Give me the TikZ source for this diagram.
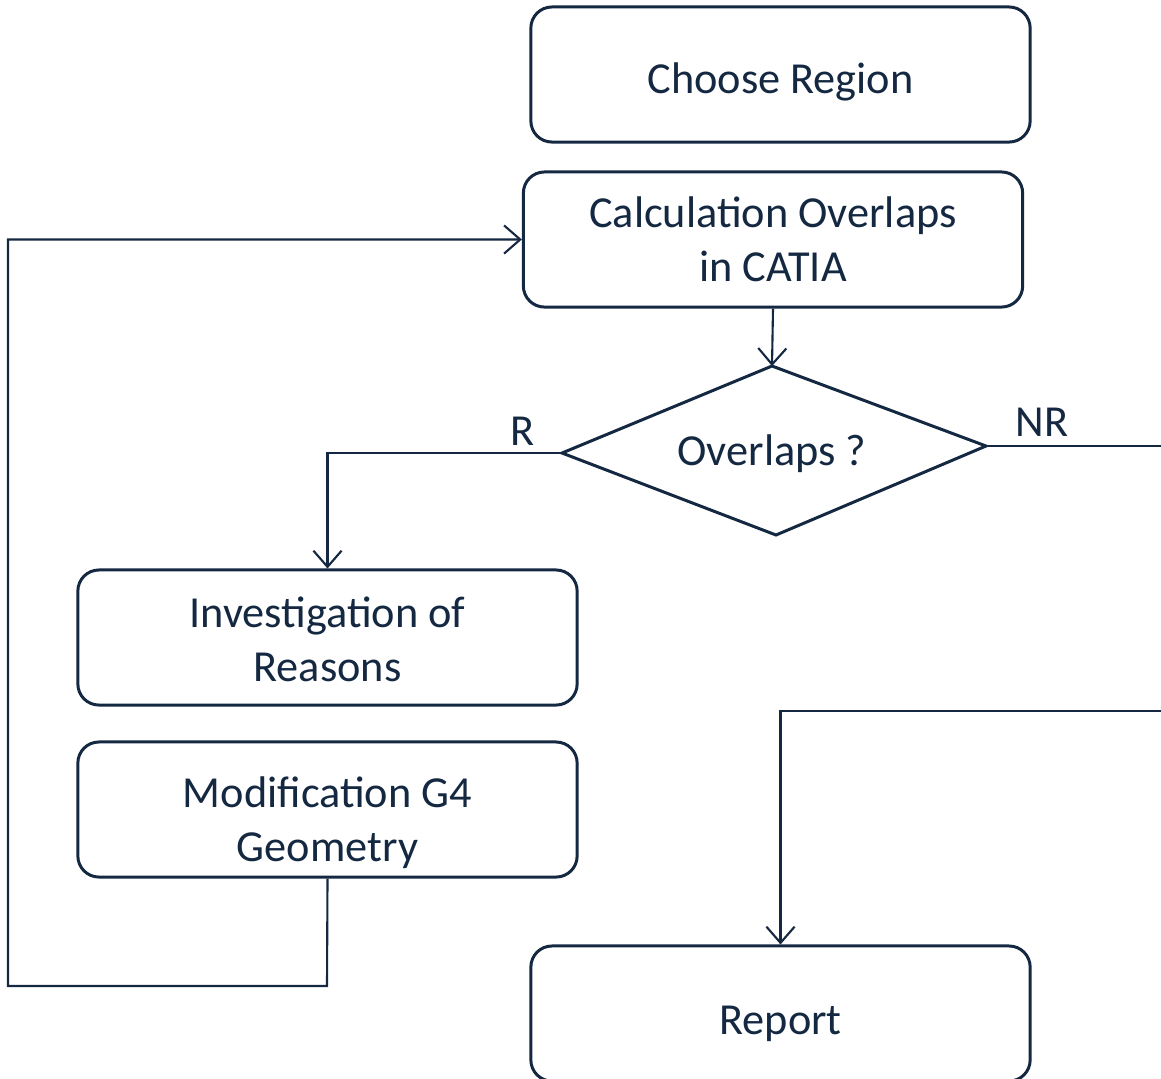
\documentclass[tikz,border=0pt]{standalone}
\usepackage{fontspec}
\setmainfont{Carlito}
\usetikzlibrary{arrows.meta,calc}
\definecolor{ink}{RGB}{20,40,65}
\begin{document}
\begin{tikzpicture}[x=0.01cm,y=-0.01cm,
  every node/.style={text=ink, font=\fontsize{12.6}{15.4}\selectfont},
  procbox/.style={draw=ink, line width=0.85pt, rounded corners=6pt,
    minimum width=4.99cm, minimum height=1.35cm, inner sep=0pt},
  boxtext/.style={align=center, inner sep=0pt},
  link/.style={draw=ink, line width=0.6pt},
  flow/.style={link, -{Straight Barb[length=4.6pt,width=8pt,line width=0.6pt]}}]
  \useasboundingbox (0,0) rectangle (1161,1078);

  % process boxes
  \node[procbox] (choose) at (780.5,74.5) {};
  \node[procbox] (calc) at (773,239.5) {};
  \node[procbox] (invest) at (327.5,637.5) {};
  \node[procbox] (modif) at (327.5,809.5) {};
  \node[procbox] (report) at (780.5,1013.5) {};

  % box captions (offsets in drawing units, y grows downward)
  \node[boxtext] (chooseT) at ($(choose.center)+(0,7)$) {Choose Region};
  \node[boxtext] (calcT) at (calc.center) {Calculation Overlaps\\in CATIA};
  \node[boxtext] (investT) at ($(invest.center)+(0,2)$) {Investigation of\\Reasons};
  \node[boxtext] (modifT) at ($(modif.center)+(0,13)$) {Modification G4\\Geometry};
  \node[boxtext] (reportT) at ($(report.center)+(0,10)$) {Report};

  % decision
  \coordinate (dtop) at (772,366);
  \coordinate (dleft) at (562,453);
  \coordinate (dbot) at (776,535);
  \coordinate (dright) at (986,446);
  \draw[draw=ink, line width=0.85pt, line join=miter] (dtop) -- (dright) -- (dbot) -- (dleft) -- cycle;
  \node (dtext) at (772,454) {Overlaps ?};

  % free ends at the right edge and the feedback loop corners
  \coordinate (nrend) at (1161,446);
  \coordinate (inend) at (1161,711);
  \coordinate (loopA) at (327,986);
  \coordinate (loopB) at (8,986);

  % connectors
  \draw[flow] (calc.south) -- (dtop);
  \draw[flow] (dleft) -| (invest.north);
  \draw[link] (dright) -- (nrend);
  \draw[flow] (inend) -| (report.north);
  \draw[flow] (modif.south) -- (loopA) -- (loopB) |- (calc.west);

  % branch labels
  \node (rlab) at (523,431) {R};
  \node (nrlab) at (1042,422) {NR};
\end{tikzpicture}
\end{document}
